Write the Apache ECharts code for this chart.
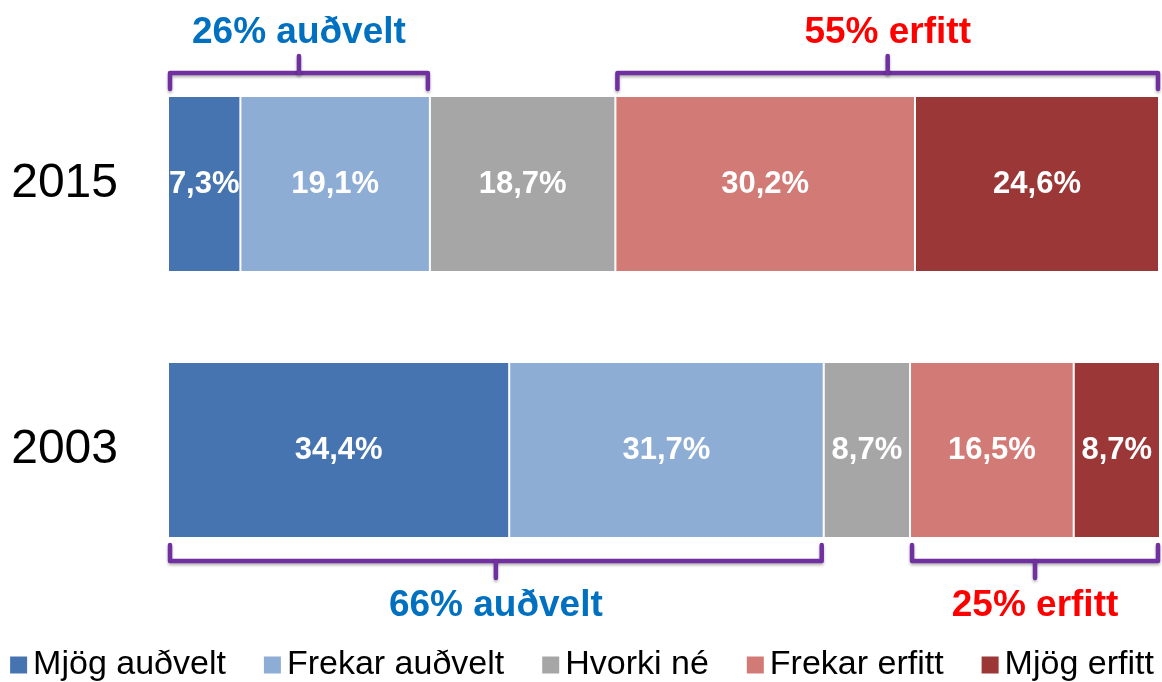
<!DOCTYPE html>
<html>
<head>
<meta charset="utf-8">
<script src="https://cdn.jsdelivr.net/npm/echarts@6/dist/echarts.min.js"></script>
<style>
  html, body { margin: 0; padding: 0; background: #fff; }
  #chart { width: 1162px; height: 682px; }
</style>
</head>
<body>
<div id="chart"></div>
<script>
// data
const years = ['2015', '2003']
const seriesNames = ['Mjög auðvelt', 'Frekar auðvelt', 'Hvorki né', 'Frekar erfitt', 'Mjög erfitt']
const mjogAudvelt = [7.3, 34.4]
const frekarAudvelt = [19.1, 31.7]
const hvorkiNe = [18.7, 8.7]
const frekarErfitt = [30.2, 16.5]
const mjogErfitt = [24.6, 8.7]
const colors = ['#4674B0', '#8DADD5', '#A6A6A6', '#D27B76', '#9B3736']

// brackets: from / to (percent), year index, label
const bracketFrom = [0, 45.1, 0, 74.8]
const bracketTo = [26.4, 100, 66.1, 100]
const bracketYear = [0, 0, 1, 1]
const bracketText = ['26% auðvelt', '55% erfitt', '66% auðvelt', '25% erfitt']
const bracketTextColor = ['#0070C0', '#FF0000', '#0070C0', '#FF0000']

const BAR_W = 176
const values = [mjogAudvelt, frekarAudvelt, hvorkiNe, frekarErfitt, mjogErfitt]

const chart = echarts.init(document.getElementById('chart'))

const bars = seriesNames.map((name, i) => ({
  name: name,
  type: 'bar',
  stack: 'all',
  barWidth: BAR_W,
  data: values[i],
  itemStyle: { color: colors[i], borderColor: '#fff', borderWidth: 1 },
  label: {
    show: true,
    position: 'inside',
    color: '#fff',
    fontFamily: 'Liberation Sans',
    fontWeight: 'bold',
    fontSize: 31,
    formatter: p => p.value.toFixed(1).replace('.', ',') + '%'
  }
}))

const bracketData = bracketFrom.map((f, i) => [f, bracketTo[i], bracketYear[i]])

const brackets = {
  type: 'custom',
  silent: true,
  encode: { x: [0, 1], y: 2 },
  data: bracketData,
  z: 5,
  renderItem: (params, api) => {
    const idx = params.dataIndex
    const a = api.coord([api.value(0), api.value(2)])
    const b = api.coord([api.value(1), api.value(2)])
    const top = api.value(2) === 0
    const s = top ? -1 : 1
    const edge = a[1] + s * BAR_W / 2
    const y0 = edge + s * 7
    const yl = edge + s * 23
    const yt = edge + s * 40
    const xm = (a[0] + b[0]) / 2
    const ly = edge + s * (top ? 63 : 68)
    const lineStyle = {
      stroke: '#7030A0',
      lineWidth: 4.5,
      fill: null,
      lineJoin: 'round',
      lineCap: 'round',
      shadowBlur: 3,
      shadowOffsetY: 2,
      shadowColor: 'rgba(0,0,0,0.3)'
    }
    return {
      type: 'group',
      children: [
        {
          type: 'polyline',
          shape: { points: [[a[0] + 2, y0], [a[0] + 2, yl], [b[0] - 2, yl], [b[0] - 2, y0]] },
          style: lineStyle
        },
        {
          type: 'line',
          shape: { x1: xm, y1: yl, x2: xm, y2: yt },
          style: lineStyle
        },
        {
          type: 'text',
          style: {
            text: bracketText[idx],
            x: xm,
            y: ly,
            align: 'center',
            verticalAlign: 'middle',
            fontFamily: 'Liberation Sans',
            fontWeight: 'bold',
            fontSize: 37,
            fill: bracketTextColor[idx]
          }
        }
      ]
    }
  }
}

const option = {
  animation: false,
  color: colors,
  grid: { left: 168, right: 2, top: 51, bottom: 99 },
  xAxis: {
    type: 'value',
    min: 0,
    max: 100,
    show: false
  },
  yAxis: {
    type: 'category',
    data: years,
    inverse: true,
    axisLine: { show: false },
    axisTick: { show: false },
    axisLabel: {
      margin: 50,
      color: '#000',
      fontFamily: 'Liberation Sans',
      fontSize: 48
    }
  },
  legend: {
    data: seriesNames,
    left: 'center',
    top: 643,
    icon: 'rect',
    itemWidth: 19,
    itemHeight: 19,
    itemGap: 36,
    textStyle: {
      color: '#000',
      fontFamily: 'Liberation Sans',
      fontSize: 34
    }
  },
  series: bars.concat([brackets])
}

chart.setOption(option)
</script>
</body>
</html>
